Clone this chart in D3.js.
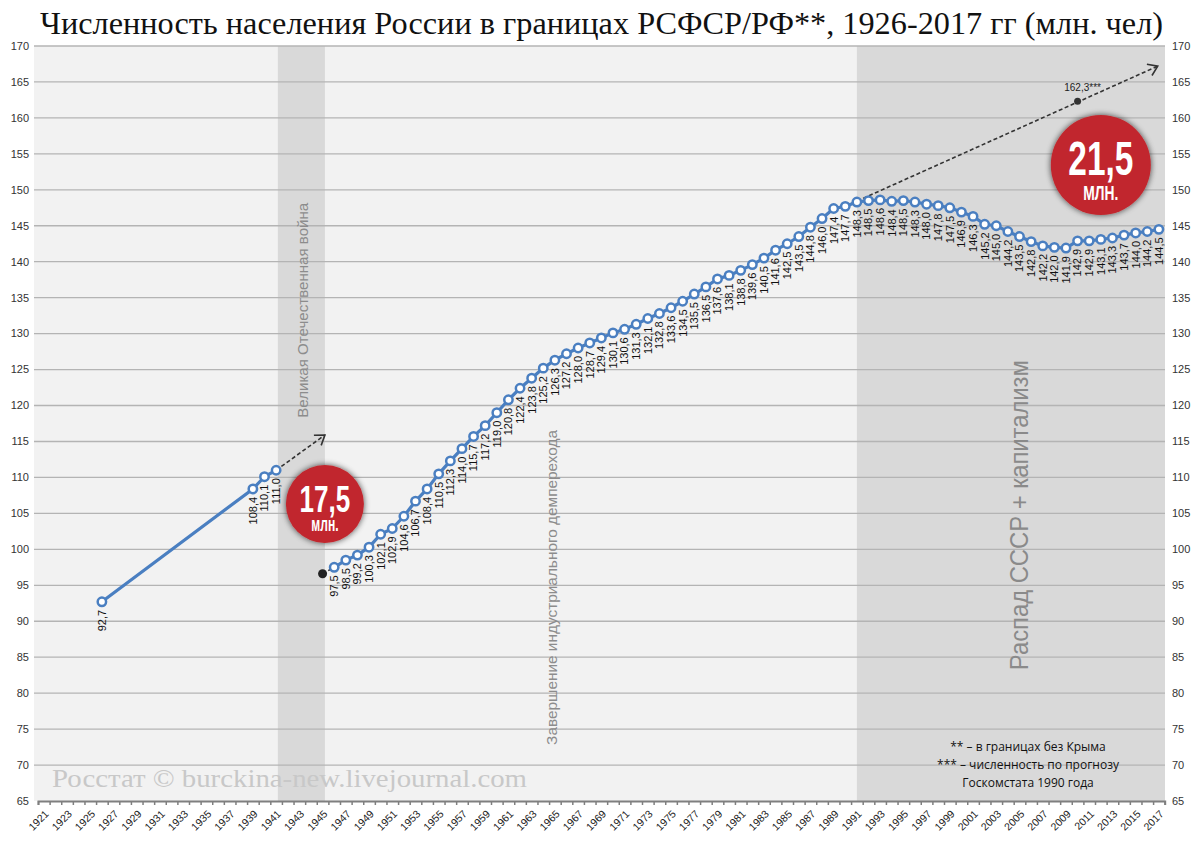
<!DOCTYPE html>
<html><head><meta charset="utf-8">
<script src="https://cdn.jsdelivr.net/npm/d3@7"></script>
<style>body{margin:0;background:#fff} svg{display:block}</style>
</head><body><svg id="c" width="1200" height="844"></svg>
<script>
// ---------- DATA ----------
const title = "Численность населения России в границах РСФСР/РФ**, 1926-2017 гг (млн. чел)";
const categoryYears = d3.range(1921, 2018);              // x categories
const tickLabelYears = categoryYears.filter(y => y % 2 === 1);
const yTickValues = d3.range(65, 171, 5);

const preWarYears  = [1926, 1939, 1940, 1941];
const preWarValues = [92.7, 108.4, 110.1, 111.0];

const postWarYears = d3.range(1946, 2018);
const postWarValues = [
  97.5, 98.5, 99.2, 100.3, 102.1, 102.9, 104.6, 106.7, 108.4, 110.5,
  112.3, 114.0, 115.7, 117.2, 119.0, 120.8, 122.4, 123.8, 125.2, 126.3,
  127.2, 128.0, 128.7, 129.4, 130.1, 130.6, 131.3, 132.1, 132.8, 133.6,
  134.5, 135.5, 136.5, 137.6, 138.1, 138.8, 139.6, 140.5, 141.6, 142.5,
  143.5, 144.8, 146.0, 147.4, 147.7, 148.3, 148.5, 148.6, 148.4, 148.5,
  148.3, 148.0, 147.8, 147.5, 146.9, 146.3, 145.2, 145.0, 144.2, 143.5,
  142.8, 142.2, 142.0, 141.9, 142.9, 142.9, 143.1, 143.3, 143.7, 144.0,
  144.2, 144.5
];

const warEndPoint   = [1945, 96.6];          // black dot after war
const warTrendEnd   = [1945.2, 115.9];       // dashed arrow tip (pre-war trend)
const forecastStart = [1990, 147.7];
const forecastPoint = [2010, 162.3];
const forecastLabel = "162,3***";
const forecastEnd   = [2016.9, 167.2];

const wwiiSpan      = [1941.15, 1945.2];
const collapseStart = 1991;

const badgeValues = ["17,5", "21,5"];
const badgeUnits  = ["млн.", "МЛН."];
const badgeAt     = [[1945.2, 106.3], [2012.0, 153.45]];

const vertTexts = [
  {text: "Великая Отечественная война", at: [1943.3, 118.3], len: 215},
  {text: "Завершение индустриального демперехода", at: [1964.75, 72.8], len: 315},
  {text: "Распад СССР + капитализм", at: [2004.95, 83.2], len: 310}
];
const watermark = "Росстат © burckina-new.livejournal.com";
const footnotes = ["** – в границах без Крыма", "*** – численность по прогнозу", "Госкомстата 1990 года"];

// ---------- CHART ----------
const svg = d3.select("#c");
const fmt = v => v.toFixed(1).replace(".", ",");
const x = d3.scaleLinear().domain([1920.5, 2017.5]).range([38, 1164.7]);
const y = d3.scaleLinear().domain([65, 170]).range([801, 46]);
const left = 34, right = 1165;

const defs = svg.append("defs");
const f = defs.append("filter").attr("id", "sh").attr("x", "-40%").attr("y", "-40%").attr("width", "180%").attr("height", "180%");
f.append("feGaussianBlur").attr("in", "SourceAlpha").attr("stdDeviation", 3).attr("result", "b");
f.append("feComponentTransfer").attr("in", "b").attr("result", "b2")
  .append("feFuncA").attr("type", "linear").attr("slope", 0.7);
const fm = f.append("feMerge");
fm.append("feMergeNode").attr("in", "b2");
fm.append("feMergeNode").attr("in", "SourceGraphic");

// backgrounds
svg.append("rect").attr("x", left).attr("y", y(170)).attr("width", right - left).attr("height", y(65) - y(170)).attr("fill", "#f2f2f2");
svg.append("rect").attr("x", x(wwiiSpan[0])).attr("y", y(170)).attr("width", x(wwiiSpan[1]) - x(wwiiSpan[0])).attr("height", y(65) - y(170)).attr("fill", "#d9d9d9");
svg.append("rect").attr("x", x(collapseStart)).attr("y", y(170)).attr("width", right - x(collapseStart)).attr("height", y(65) - y(170)).attr("fill", "#d9d9d9");

// gridlines
svg.append("g").selectAll("line").data(yTickValues.filter(v => v > 65)).join("line")
  .attr("x1", left).attr("x2", right).attr("y1", d => y(d)).attr("y2", d => y(d))
  .attr("stroke", "#b4b4b4").attr("stroke-width", 1.3);

// y labels both sides
const yl = svg.append("g").attr("font-family", "Liberation Sans, Arial, sans-serif").attr("font-size", 11).attr("fill", "#333");
yl.selectAll("text.l").data(yTickValues).join("text").attr("class", "l")
  .attr("x", 29).attr("y", d => y(d)).attr("dy", "0.35em").attr("text-anchor", "end").text(d => d);
yl.selectAll("text.r").data(yTickValues).join("text").attr("class", "r")
  .attr("x", 1172).attr("y", d => y(d)).attr("dy", "0.35em").attr("text-anchor", "start").text(d => d);

// watermark
svg.append("text").attr("x", 52).attr("y", 787).attr("font-family", "Liberation Serif, serif").attr("font-size", 25)
  .attr("fill", "#c8c8c8").attr("textLength", 475).attr("lengthAdjust", "spacingAndGlyphs").text(watermark);

// vertical texts
vertTexts.forEach((t, i) => {
  svg.append("text")
    .attr("transform", `translate(${x(t.at[0])},${y(t.at[1])}) rotate(-90)`)
    .attr("dy", "0.35em")
    .attr("font-family", "Liberation Sans, Arial, sans-serif")
    .attr("font-size", i === 2 ? 25 : 15)
    .attr("fill", i === 2 ? "#8a8a8a" : "#8c8c8c")
    .attr("textLength", t.len).attr("lengthAdjust", "spacingAndGlyphs")
    .text(t.text);
});

// x axis
const xAxis = d3.axisBottom(x).tickValues(d3.range(1920.5, 2018, 1)).tickSize(4).tickFormat("");
const ax = svg.append("g").attr("transform", `translate(0,${y(65)})`).call(xAxis);
ax.select(".domain").attr("stroke", "#7f7f7f").attr("stroke-width", 2);
ax.selectAll(".tick line").attr("stroke", "#7f7f7f").attr("stroke-width", 1.5);
svg.append("g").selectAll("text").data(tickLabelYears).join("text")
  .attr("transform", d => `translate(${x(d) + 3},${y(65) + 11}) rotate(-45)`)
  .attr("text-anchor", "end").attr("dy", "0.35em")
  .attr("font-family", "Liberation Sans, Arial, sans-serif").attr("font-size", 10.5).attr("fill", "#222")
  .text(d => d);

// dashed lines and arrows
function dashed(a, b) {
  svg.append("line").attr("x1", x(a[0])).attr("y1", y(a[1])).attr("x2", x(b[0])).attr("y2", y(b[1]))
    .attr("stroke", "#333").attr("stroke-width", 1.6).attr("stroke-dasharray", "4,2.5");
}
function arrowHead(a, b) {
  const x0 = x(a[0]), y0 = y(a[1]), x1 = x(b[0]), y1 = y(b[1]);
  const ang = Math.atan2(y1 - y0, x1 - x0), L = 11, w = 0.6;
  const p1 = [x1 - L * Math.cos(ang - w), y1 - L * Math.sin(ang - w)];
  const p2 = [x1 - L * Math.cos(ang + w), y1 - L * Math.sin(ang + w)];
  svg.append("path").attr("d", `M${p1}L${x1},${y1}L${p2}`).attr("fill", "none").attr("stroke", "#333").attr("stroke-width", 1.6);
}
const lastPre = [preWarYears[3], preWarValues[3]];
dashed(lastPre, warTrendEnd); arrowHead(lastPre, warTrendEnd);
dashed(forecastStart, forecastEnd); arrowHead(forecastStart, forecastEnd);
dashed(warEndPoint, [postWarYears[0], postWarValues[0]]);
svg.append("circle").attr("cx", x(forecastPoint[0])).attr("cy", y(forecastPoint[1])).attr("r", 3.5).attr("fill", "#333");
svg.append("text").attr("x", x(forecastPoint[0]) + 5).attr("y", y(forecastPoint[1]) - 10).attr("text-anchor", "middle")
  .attr("font-family", "Liberation Sans, Arial, sans-serif").attr("font-size", 10).attr("fill", "#222").text(forecastLabel);
svg.append("circle").attr("cx", x(warEndPoint[0])).attr("cy", y(warEndPoint[1])).attr("r", 4.5).attr("fill", "#222");

// series
const blue = "#4a7fc1";
const line = d3.line().x(d => x(d[0])).y(d => y(d[1]));
const pre = preWarYears.map((yr, i) => [yr, preWarValues[i]]);
const post = postWarYears.map((yr, i) => [yr, postWarValues[i]]);
[pre, post].forEach(s => {
  svg.append("path").datum(s).attr("d", line).attr("fill", "none").attr("stroke", blue).attr("stroke-width", 3.2);
  svg.append("g").selectAll("circle").data(s).join("circle")
    .attr("cx", d => x(d[0])).attr("cy", d => y(d[1])).attr("r", 4.2)
    .attr("fill", "#fff").attr("stroke", blue).attr("stroke-width", 2.5);
  svg.append("g").selectAll("text").data(s).join("text")
    .attr("transform", d => `translate(${x(d[0])},${y(d[1]) + 8}) rotate(-90)`)
    .attr("text-anchor", "end").attr("dy", "0.35em")
    .attr("font-family", "Liberation Sans, Arial, sans-serif").attr("font-size", 11).attr("fill", "#111")
    .text(d => fmt(d[1]));
});

// badges
const badgeR = [39, 50];
badgeAt.forEach((b, i) => {
  const r = badgeR[i];
  const g = svg.append("g").attr("transform", `translate(${x(b[0])},${y(b[1])})`);
  g.append("circle").attr("r", r).attr("fill", "#c1272d").attr("filter", "url(#sh)");
  g.append("text").attr("y", r * 0.2).attr("text-anchor", "middle")
    .attr("font-family", "Liberation Sans, Arial, sans-serif").attr("font-weight", "bold")
    .attr("font-size", r * 0.97).attr("fill", "#fff")
    .attr("textLength", r * 1.3).attr("lengthAdjust", "spacingAndGlyphs").text(badgeValues[i]);
  g.append("text").attr("y", r * 0.7).attr("text-anchor", "middle")
    .attr("font-family", "Liberation Sans, Arial, sans-serif").attr("font-weight", "bold")
    .attr("font-size", i === 0 ? r * 0.5 : r * 0.4).attr("fill", "#fff")
    .attr("textLength", r * 0.7).attr("lengthAdjust", "spacingAndGlyphs").text(badgeUnits[i]);
});

// footnotes
svg.append("g").selectAll("text").data(footnotes).join("text")
  .attr("x", 1028).attr("y", (d, i) => 751 + i * 18).attr("text-anchor", "middle")
  .attr("font-family", "Open Sans, sans-serif").attr("font-size", 12).attr("fill", "#111").text(d => d);

// title
svg.append("text").attr("x", 40).attr("y", 34).attr("font-family", "Liberation Serif, serif").attr("font-size", 31)
  .attr("fill", "#111").attr("textLength", 1123).attr("lengthAdjust", "spacingAndGlyphs").text(title);
</script>
</body></html>
